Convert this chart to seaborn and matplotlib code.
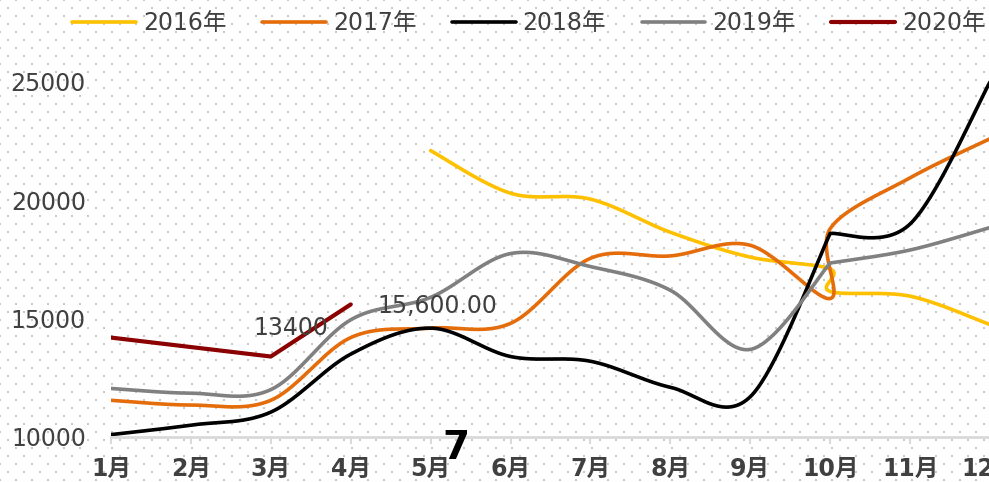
import numpy as np
import pandas as pd
import seaborn as sns
import matplotlib.pyplot as plt

# 月份标签
month_labels = ["1月", "2月", "3月", "4月", "5月", "6月", "7月", "8月", "9月", "10月", "11月", "12月"]

# 各年份数据（10月有两个点）
x_full = [1, 2, 3, 4, 5, 6, 7, 8, 9, 10, 10, 11, 12]
x_2016 = [5, 6, 7, 8, 9, 10, 10, 11, 12]
x_2020 = [1, 2, 3, 4]

v_2016 = [22100, 20300, 20050, 18650, 17600, 17100, 16150, 15950, 14750]
v_2017 = [11550, 11350, 11550, 14200, 14600, 14800, 17550, 17650, 18100, 15850, 18800, 20950, 22600]
v_2018 = [10100, 10500, 11050, 13500, 14600, 13400, 13200, 12100, 11700, 18600, 18600, 19000, 25000]
v_2019 = [12050, 11850, 12000, 14950, 15900, 17750, 17200, 16200, 13700, 17350, 17350, 17900, 18850]
v_2020 = [14200, 13800, 13400, 15600]

series = [
    ("2016年", x_2016, v_2016, "#FFC000", 2.6, True),
    ("2017年", x_full, v_2017, "#E46C0A", 2.6, True),
    ("2018年", x_full, v_2018, "#000000", 2.6, True),
    ("2019年", x_full, v_2019, "#808080", 2.6, True),
    ("2020年", x_2020, v_2020, "#8B0000", 3.0, False),
]

label_2020 = ["13400", "15,600.00"]


def smooth(xs, ys, n=40):
    # Excel 风格平滑线（Catmull-Rom 三次贝塞尔），重复点处形成尖角
    m = len(xs)
    out_x, out_y = [], []
    t = np.linspace(0, 1, n)
    for i in range(m - 1):
        x1, y1 = xs[i], ys[i]
        x2, y2 = xs[i + 1], ys[i + 1]
        if x1 == x2 and y1 == y2:
            continue
        x0, y0 = (xs[i - 1], ys[i - 1]) if i > 0 else (x1, y1)
        x3, y3 = (xs[i + 2], ys[i + 2]) if i + 2 < m else (x2, y2)
        cx1, cy1 = x1 + (x2 - x0) / 6, y1 + (y2 - y0) / 6
        cx2, cy2 = x2 - (x3 - x1) / 6, y2 - (y3 - y1) / 6
        b0, b1, b2, b3 = (1 - t) ** 3, 3 * (1 - t) ** 2 * t, 3 * (1 - t) * t ** 2, t ** 3
        out_x.extend(b0 * x1 + b1 * cx1 + b2 * cx2 + b3 * x2)
        out_y.extend(b0 * y1 + b1 * cy1 + b2 * cy2 + b3 * y2)
    return out_x, out_y


sns.set_theme(style="white")
plt.rcParams["font.family"] = ["DejaVu Sans", "Noto Sans CJK SC"]
text_color = "#404040"

fig = plt.figure(figsize=(9.89, 4.82), dpi=100)

# 背景点阵
bg = fig.add_axes([0, 0, 1, 1], zorder=0)
bg.set_xlim(0, 989)
bg.set_ylim(482, 0)
bg.axis("off")
dots_x, dots_y = [], []
for r, yy in enumerate(range(0, 490, 8)):
    for xx in range(8 if r % 2 else 0, 995, 16):
        dots_x.append(xx)
        dots_y.append(yy)
bg.scatter(dots_x, dots_y, marker="s", s=2.1, color="#c8c8c8", linewidths=0)

# 主图
ax = fig.add_axes([0.1122, 0.0934, 0.8888, 0.7856], zorder=1)
ax.patch.set_alpha(0)

for name, xs, vs, color, lw, is_smooth in series:
    if is_smooth:
        sx, sy = smooth(xs, vs)
    else:
        sx, sy = xs, vs
    df = pd.DataFrame({"month": sx, "value": sy})
    sns.lineplot(data=df, x="month", y="value", sort=False, estimator=None,
                 color=color, linewidth=lw, label=name, ax=ax, legend=False)

ax.set_xlim(1, 12)
ax.set_ylim(10000, 26000)
ax.set_xticks(range(1, 13))
ax.set_xticklabels(month_labels, fontsize=17, fontweight="bold", color=text_color)
ax.set_yticks([10000, 15000, 20000, 25000])
ax.set_yticklabels(["10000", "15000", "20000", "25000"], fontsize=17, color=text_color)
ax.set_xlabel("")
ax.set_ylabel("")
for s in ["top", "right", "left"]:
    ax.spines[s].set_visible(False)
ax.spines["bottom"].set_color("#d9d9d9")
ax.spines["bottom"].set_linewidth(2)
ax.tick_params(axis="x", direction="out", length=5, width=1.5, color="#d9d9d9", pad=9, bottom=True)
ax.tick_params(axis="y", length=0, pad=18)

# 数据标签
ax.text(3.25, 14606, label_2020[0], fontsize=17, color=text_color, ha="center", va="center")
ax.text(5.08, 15535, label_2020[1], fontsize=17, color=text_color, ha="center", va="center")

# 多余字符
fig.text(456 / 989, 1 - 448 / 482, "7", fontsize=28, fontweight="bold", color="black",
         ha="center", va="center")

# 图例
handles, labels = ax.get_legend_handles_labels()
fig.legend(handles, labels, loc="center", bbox_to_anchor=(0.535, 0.952), ncol=5, frameon=False,
           fontsize=17, handlelength=2.7, handletextpad=0.3, columnspacing=1.5, labelcolor=text_color)

fig.savefig("out.png", dpi=100)
